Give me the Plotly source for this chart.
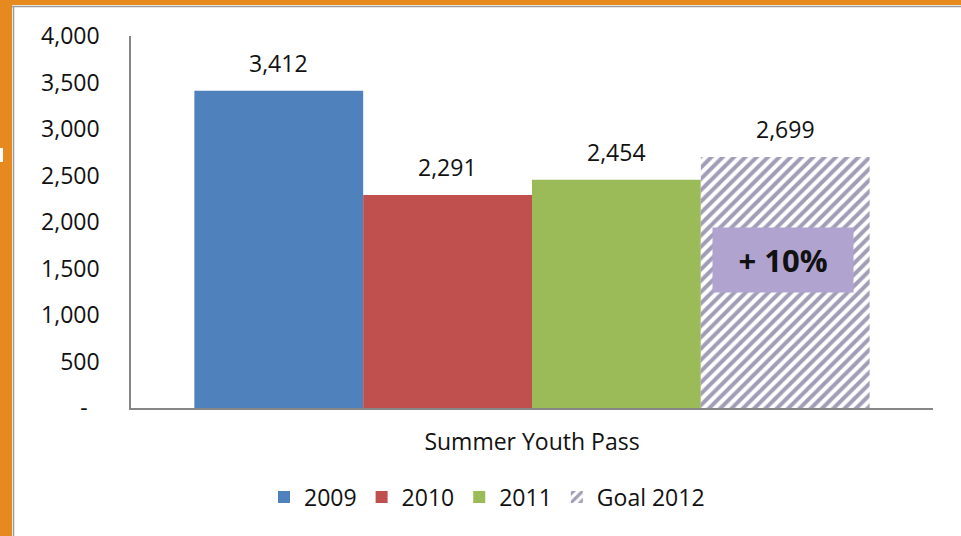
import plotly.graph_objects as go

# ---- data ----
category = ["Summer Youth Pass"]
series_names = ["2009", "2010", "2011", "Goal 2012"]
values = [3412, 2291, 2454, 2699]
y_tickvals = [0, 500, 1000, 1500, 2000, 2500, 3000, 3500, 4000]
y_ticktext = ["-\u00a0\u00a0", "500", "1,000", "1,500", "2,000", "2,500", "3,000", "3,500", "4,000"]
goal_note = "+ 10%"

# ---- style ----
W, H = 961, 536
L, R, T, B = 131, 28, 36, 128
PW, PH = W - L - R, H - T - B
colors = ["#4f81bd", "#c0504d", "#9bbb59", "#ffffff"]
FONT = "Open Sans, Lato, sans-serif"
FS = 23
TXT = "#111111"
ORANGE = "#e68a1f"


def px(x):
    return (x - L) / PW


def py(y):
    return (H - B - y) / PH


fig = go.Figure()
for i, (name, val) in enumerate(zip(series_names, values)):
    marker = dict(color=colors[i], line=dict(width=0))
    if i == 3:
        marker["pattern"] = dict(shape="/", fgcolor="#463b6e", bgcolor="#ffffff",
                                 size=8, solidity=0.5)
    fig.add_trace(go.Bar(x=category, y=[val], name=name, marker=marker,
                         hoverinfo="skip"))

bar_px = PW * (1 - 0.158) / len(values)
annotations = []
for i, val in enumerate(values):
    annotations.append(dict(
        x=category[0], y=val, xref="x", yref="y",
        xshift=(i - (len(values) - 1) / 2) * bar_px,
        yshift=10, yanchor="bottom", xanchor="center", showarrow=False,
        text=f"{val:,}", font=dict(family=FONT, size=FS, color=TXT)))

annotations.append(dict(
    x=px(783), y=py(260), xref="paper", yref="paper", showarrow=False,
    xanchor="center", yanchor="middle",
    text=f"<b>{goal_note}</b>", font=dict(family=FONT, size=31, color=TXT),
    bgcolor="#b1a3cf", width=140, height=64, borderpad=0))

shapes = [
    # orange frame
    dict(type="rect", xref="paper", yref="paper", x0=px(0), x1=px(W), y0=py(0), y1=py(5),
         fillcolor=ORANGE, line=dict(width=0), layer="above"),
    dict(type="rect", xref="paper", yref="paper", x0=px(0), x1=px(12), y0=py(0), y1=py(H),
         fillcolor=ORANGE, line=dict(width=0), layer="above"),
    # thin grey inner edges
    dict(type="line", xref="paper", yref="paper", x0=px(12), x1=px(W), y0=py(6.5), y1=py(6.5),
         line=dict(color="#9a9a9a", width=1.5), layer="above"),
    dict(type="line", xref="paper", yref="paper", x0=px(13.5), x1=px(13.5), y0=py(6), y1=py(H),
         line=dict(color="#9a9a9a", width=1.5), layer="above"),
    dict(type="rect", xref="paper", yref="paper", x0=px(0), x1=px(3), y0=py(148), y1=py(162),
         fillcolor="#ffffff", line=dict(width=0), layer="above"),
]

fig.update_layout(
    width=W, height=H,
    margin=dict(l=L, r=R, t=T, b=B, pad=0),
    paper_bgcolor="white", plot_bgcolor="white",
    barmode="group", bargap=0.158, bargroupgap=0,
    font=dict(family=FONT, size=FS, color=TXT),
    showlegend=True,
    legend=dict(orientation="h", x=px(487), xanchor="center", y=py(497), yanchor="middle",
                font=dict(family=FONT, size=FS, color=TXT), itemwidth=30,
                traceorder="normal", bgcolor="rgba(0,0,0,0)"),
    annotations=annotations,
    shapes=shapes,
)
fig.update_yaxes(range=[0, 4000], tickvals=y_tickvals, ticktext=y_ticktext,
                 showgrid=False, zeroline=False, showline=True, linecolor="#868686",
                 linewidth=1.5, ticks="", ticklabelstandoff=25,
                 tickfont=dict(family=FONT, size=FS, color=TXT))
fig.update_xaxes(showgrid=False, showline=True, linecolor="#868686", linewidth=1.5,
                 ticks="", ticklabelstandoff=13,
                 tickfont=dict(family=FONT, size=FS, color=TXT))

fig.write_html("out.html", config={"displayModeBar": False},
               post_script="document.body.style.margin='0';document.body.style.overflow='hidden';")
